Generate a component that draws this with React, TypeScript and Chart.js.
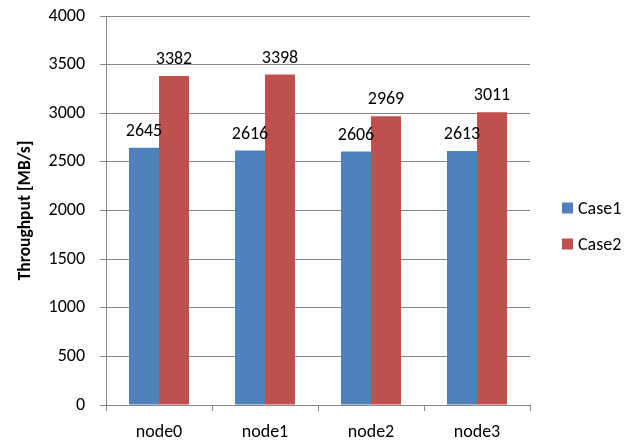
import React, { useEffect, useRef } from "react";
import { Chart, registerables } from "chart.js";

Chart.register(...registerables);

const categories = ["node0", "node1", "node2", "node3"];
const case1Values = [2645, 2616, 2606, 2613];
const case2Values = [3382, 3398, 2969, 3011];
const seriesNames = ["Case1", "Case2"];
const yTicksMin = 0;
const yTicksMax = 4000;
const yTickStep = 500;

const FONT = "Carlito, Lato, 'Open Sans', sans-serif";
const GRID = "#868686";

const valueLabels = {
  id: "valueLabels",
  afterDatasetsDraw(chart: any) {
    const ctx = chart.ctx;
    ctx.save();
    ctx.font = `18px ${FONT}`;
    ctx.fillStyle = "#000";
    ctx.textAlign = "center";
    ctx.textBaseline = "alphabetic";
    chart.data.datasets.forEach((ds: any, di: number) => {
      const meta = chart.getDatasetMeta(di);
      meta.data.forEach((el: any, i: number) => {
        ctx.fillText(String(ds.data[i]), el.x, el.y - 12);
      });
    });
    ctx.restore();
  },
};

const sideLegend = {
  id: "sideLegend",
  afterDraw(chart: any) {
    const ctx = chart.ctx;
    const area = chart.chartArea;
    ctx.save();
    ctx.font = `18px ${FONT}`;
    ctx.textAlign = "left";
    ctx.textBaseline = "middle";
    const boxX = area.right + 32;
    const firstY = 208;
    const step = 36;
    chart.data.datasets.forEach((ds: any, i: number) => {
      const cy = firstY + i * step;
      ctx.fillStyle = ds.backgroundColor;
      ctx.fillRect(boxX, cy - 5.5, 11, 11);
      ctx.fillStyle = "#000";
      ctx.fillText(ds.label, boxX + 16, cy + 1);
    });
    ctx.restore();
  },
};

export default function App() {
  const ref = useRef<HTMLCanvasElement | null>(null);

  useEffect(() => {
    if (!ref.current) return;
    const chart = new Chart(ref.current, {
      type: "bar",
      data: {
        labels: categories,
        datasets: [
          {
            label: seriesNames[0],
            data: case1Values,
            backgroundColor: "#4F81BD",
            borderWidth: 0,
          },
          {
            label: seriesNames[1],
            data: case2Values,
            backgroundColor: "#C0504D",
            borderWidth: 0,
          },
        ],
      },
      options: {
        animation: false,
        responsive: true,
        maintainAspectRatio: false,
        datasets: {
          bar: { categoryPercentage: 0.566, barPercentage: 1 },
        },
        layout: { padding: { left: 14, right: 113, top: 16, bottom: 0 } },
        plugins: {
          legend: { display: false },
          tooltip: { enabled: false },
        },
        scales: {
          x: {
            afterFit: (scale: any) => {
              scale.height = 38;
            },
            grid: {
              display: true,
              drawOnChartArea: false,
              drawTicks: true,
              tickLength: 6,
              offset: true,
              color: GRID,
            },
            border: { display: true, color: GRID, width: 1 },
            ticks: {
              color: "#000",
              font: { family: FONT, size: 18 },
              padding: 11,
            },
          },
          y: {
            min: yTicksMin,
            max: yTicksMax,
            afterFit: (scale: any) => {
              scale.width = 92;
              scale.paddingTop = 0;
              scale.paddingBottom = 0;
            },
            ticks: {
              stepSize: yTickStep,
              color: "#000",
              font: { family: FONT, size: 18 },
              padding: 15,
              callback: (v: any) => String(v),
            },
            grid: {
              color: GRID,
              drawTicks: true,
              tickLength: 6,
            },
            border: { display: true, color: GRID, width: 1 },
            title: {
              display: true,
              text: "Throughput [MB/s]",
              color: "#000",
              font: { family: FONT, size: 17.5, weight: "bold" },
              padding: { top: 1, bottom: 4 },
            },
          },
        },
      },
      plugins: [valueLabels, sideLegend],
    });
    return () => chart.destroy();
  }, []);

  return (
    <div
      style={{
        position: "absolute",
        left: 0,
        top: 0,
        width: 643,
        height: 443,
        background: "#fff",
      }}
    >
      <canvas ref={ref} />
    </div>
  );
}
